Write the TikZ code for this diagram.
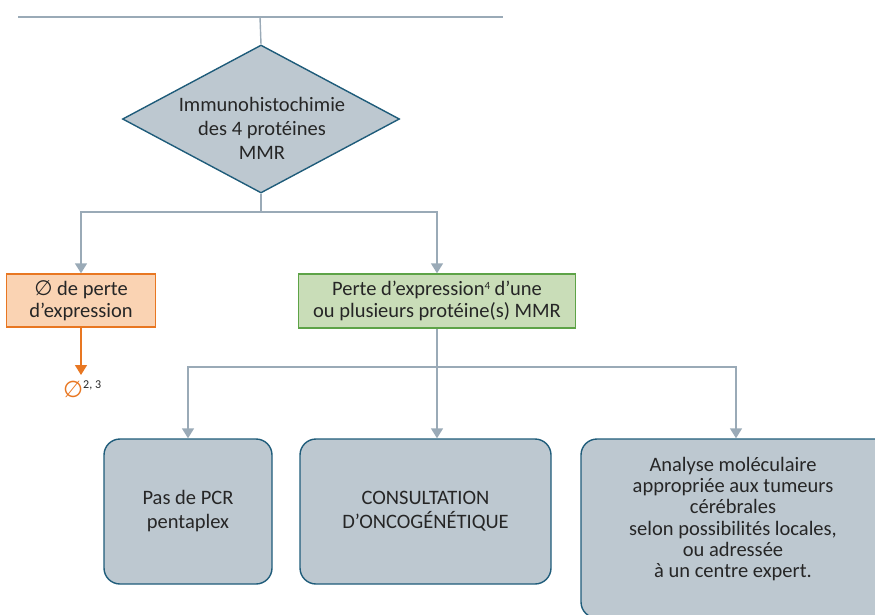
\documentclass[tikz,border=0pt]{standalone}
\usepackage{fontspec}
\setmainfont{Carlito}
\newfontfamily\symfont{DejaVu Sans}
\usetikzlibrary{shapes.geometric,arrows.meta}
\definecolor{boxgray}{HTML}{BDC8D0}
\definecolor{boxedge}{HTML}{1F5C7A}
\definecolor{conn}{HTML}{9AAAB7}
\definecolor{orgedge}{HTML}{E87722}
\definecolor{orgfill}{HTML}{FAD3B3}
\definecolor{grnedge}{HTML}{5DA347}
\definecolor{grnfill}{HTML}{C9DDB8}
\definecolor{txt}{HTML}{262626}
\begin{document}
\begin{tikzpicture}[x=1pt,y=-1pt,
  txtfont/.style={font=\fontsize{20.5}{22}\selectfont, text=txt, align=center},
  connline/.style={draw=conn, line width=1.4pt},
  conarrow/.style={connline, -{Triangle[width=12pt,length=10pt]}},
  orgarrow/.style={draw=orgedge, line width=1.4pt, -{Triangle[width=12pt,length=10pt]}},
  graybox/.style={draw=boxedge, fill=boxgray, line width=1.4pt, rounded corners=16pt, inner sep=0pt},
  flatbox/.style={line width=1.4pt, inner sep=0pt}]
\useasboundingbox (0,0) rectangle (875,614);
\clip (0,0) rectangle (875,614);
% top rule
\coordinate (tl) at (18,17);
\coordinate (tr) at (503,17);
\coordinate (tm) at (260,17);
\draw[connline] (tl) -- (tr);
% diamond
\node[diamond, draw=boxedge, fill=boxgray, line width=1.4pt, minimum width=277pt, minimum height=148pt, inner sep=0pt] (ihc) at (261,119) {};
\node[txtfont, font=\fontsize{20.5}{24}\selectfont, inner sep=0pt] (ihct) at (262,128) {Immunohistochimie\\des 4 protéines\\MMR};
\draw[connline] (tm) -- (ihc.north);
% level 2
\node[flatbox, draw=orgedge, fill=orgfill, minimum width=149pt, minimum height=53pt, txtfont] (noloss) at (81,300.5) {{\symfont\fontsize{21}{22}\selectfont ∅} de perte\\d’expression};
\node[flatbox, draw=grnedge, fill=grnfill, minimum width=277pt, minimum height=54pt, txtfont] (loss) at (437,301) {Perte d’expression{\fontsize{11}{11}\selectfont\raisebox{6pt}{4}} d’une\\ou plusieurs protéine(s) MMR};
\coordinate (j1) at (261,212);
\draw[connline] (ihc.south) -- (j1);
\draw[conarrow] (j1) -| (noloss.north);
\draw[conarrow] (j1) -| (loss.north);
% empty result
\node[inner sep=0pt, anchor=north west, font=\fontsize{23}{24}\selectfont] (none) at (63,381) {\textcolor{orgedge}{\symfont ∅}\textcolor{txt}{\fontsize{12}{12}\selectfont\raisebox{9pt}{2, 3}}};
\draw[orgarrow, shorten >=6pt] (noloss.south) -- (noloss.south |- none.north);
% level 3
\node[graybox, minimum width=168pt, minimum height=145pt, txtfont, font=\fontsize{20.5}{24}\selectfont] (pcr) at (188,511.5) {Pas de PCR\\pentaplex};
\node[graybox, minimum width=251pt, minimum height=145pt, txtfont, font=\fontsize{20.5}{24}\selectfont] (onco) at (425.5,511.5) {CONSULTATION\\D’ONCOGÉNÉTIQUE};
\node[graybox, minimum width=310pt, minimum height=179pt] (mol) at (736,528.5) {};
\node[txtfont, font=\fontsize{20.5}{21.3}\selectfont, inner sep=0pt] (molt) at (733,519) {Analyse moléculaire\\appropriée aux tumeurs\\cérébrales\\selon possibilités locales,\\ou adressée\\à un centre expert.};
\coordinate (j2) at (437,367);
\draw[connline] (loss.south) -- (j2);
\draw[conarrow] (j2) -| (pcr.north);
\draw[conarrow] (j2) -- (j2 |- onco.north);
\draw[conarrow] (j2) -| (mol.north);
\end{tikzpicture}
\end{document}
